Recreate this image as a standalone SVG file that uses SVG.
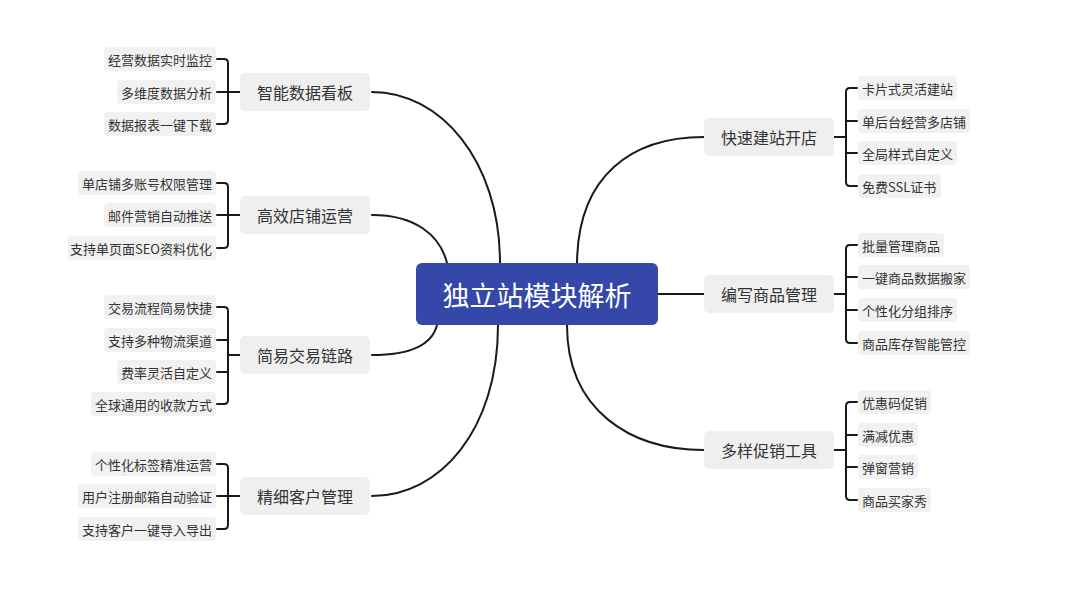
<svg xmlns="http://www.w3.org/2000/svg" width="1080" height="590" viewBox="0 0 1080 590">
<style>
text{font-family:"Noto Sans CJK SC","Noto Sans",sans-serif;dominant-baseline:central}
.leaf rect{fill:#f1f1f1}
.leaf text{font-size:13px;fill:#333}
.main rect{fill:#efefef}
.main text{font-size:16px;fill:#333;text-anchor:middle}
.l text{text-anchor:end}
.c{fill:none;stroke:#1a1a1a;stroke-width:2;stroke-linecap:round}
</style>
<rect width="1080" height="590" fill="#fff"/>
<g id="connectors" class="c">
<path d="M372,92 C440,92 500,160 500,263"/>
<path d="M372,215 C415,215 440,235 447,263"/>
<path d="M372,355 C410,355 432,345 437,325"/>
<path d="M372,496 C440,496 498,430 498,325"/>
<path d="M704,137 C632,137 578,175 577,263"/>
<path d="M658,294 H704"/>
<path d="M704,450 C630,450 567,410 567,325"/>
<path d="M240,92 H228 M217,59 H224 Q228,59 228,63 V120 Q228,124 224,124 H217 M217,92 H228"/>
<path d="M240,215 H228 M217,183 H224 Q228,183 228,187 V244 Q228,248 224,248 H217 M217,215 H228"/>
<path d="M240,355 H228 M217,307 H224 Q228,307 228,311 V400 Q228,404 224,404 H217 M217,340 H228 M217,372 H228"/>
<path d="M240,496 H228 M217,464 H224 Q228,464 228,468 V525 Q228,529 224,529 H217 M217,496 H228"/>
<path d="M834,137 H846 M857,88 H850 Q846,88 846,92 V182 Q846,186 850,186 H857 M857,121 H846 M857,153 H846"/>
<path d="M834,294 H846 M857,245 H850 Q846,245 846,249 V339 Q846,343 850,343 H857 M857,277 H846 M857,310 H846"/>
<path d="M834,450 H846 M857,402 H850 Q846,402 846,406 V496 Q846,500 850,500 H857 M857,435 H846 M857,467 H846"/>
</g>
<g id="root">
<rect x="416" y="263" width="242" height="62" rx="6" fill="#3547a9"/>
<text x="537" y="294" font-size="27" fill="#fff" text-anchor="middle">独立站模块解析</text>
</g>
<g id="n-zhineng" class="main"><rect x="240" y="73" width="130" height="38" rx="5"/><text x="305" y="92">智能数据看板</text></g>
<g id="n-gaoxiao" class="main"><rect x="240" y="196" width="130" height="38" rx="5"/><text x="305" y="215">高效店铺运营</text></g>
<g id="n-jianyi" class="main"><rect x="240" y="336" width="130" height="38" rx="5"/><text x="305" y="355">简易交易链路</text></g>
<g id="n-jingxi" class="main"><rect x="240" y="477" width="130" height="38" rx="5"/><text x="305" y="496">精细客户管理</text></g>
<g id="n-kuaisu" class="main"><rect x="704" y="118" width="130" height="38" rx="5"/><text x="769" y="137">快速建站开店</text></g>
<g id="n-bianxie" class="main"><rect x="704" y="275" width="130" height="38" rx="5"/><text x="769" y="294">编写商品管理</text></g>
<g id="n-duoyang" class="main"><rect x="704" y="431" width="130" height="38" rx="5"/><text x="769" y="450">多样促销工具</text></g>

<g id="l1" class="leaf l"><rect x="104" y="47" width="112" height="24" rx="4"/><text x="212" y="59">经营数据实时监控</text></g>
<g id="l2" class="leaf l"><rect x="117" y="80" width="99" height="24" rx="4"/><text x="212" y="92">多维度数据分析</text></g>
<g id="l3" class="leaf l"><rect x="104" y="112" width="112" height="24" rx="4"/><text x="212" y="124">数据报表一键下载</text></g>
<g id="l4" class="leaf l"><rect x="78" y="171" width="138" height="24" rx="4"/><text x="212" y="183">单店铺多账号权限管理</text></g>
<g id="l5" class="leaf l"><rect x="104" y="203" width="112" height="24" rx="4"/><text x="212" y="215">邮件营销自动推送</text></g>
<g id="l6" class="leaf l"><rect x="68" y="236" width="148" height="24" rx="4"/><text x="212" y="248">支持单页面SEO资料优化</text></g>
<g id="l7" class="leaf l"><rect x="104" y="295" width="112" height="24" rx="4"/><text x="212" y="307">交易流程简易快捷</text></g>
<g id="l8" class="leaf l"><rect x="104" y="328" width="112" height="24" rx="4"/><text x="212" y="340">支持多种物流渠道</text></g>
<g id="l9" class="leaf l"><rect x="117" y="360" width="99" height="24" rx="4"/><text x="212" y="372">费率灵活自定义</text></g>
<g id="l10" class="leaf l"><rect x="91" y="392" width="125" height="24" rx="4"/><text x="212" y="404">全球通用的收款方式</text></g>
<g id="l11" class="leaf l"><rect x="91" y="452" width="125" height="24" rx="4"/><text x="212" y="464">个性化标签精准运营</text></g>
<g id="l12" class="leaf l"><rect x="78" y="484" width="138" height="24" rx="4"/><text x="212" y="496">用户注册邮箱自动验证</text></g>
<g id="l13" class="leaf l"><rect x="78" y="517" width="138" height="24" rx="4"/><text x="212" y="529">支持客户一键导入导出</text></g>

<g id="r1" class="leaf"><rect x="858" y="76" width="99" height="24" rx="4"/><text x="862" y="88">卡片式灵活建站</text></g>
<g id="r2" class="leaf"><rect x="858" y="109" width="112" height="24" rx="4"/><text x="862" y="121">单后台经营多店铺</text></g>
<g id="r3" class="leaf"><rect x="858" y="141" width="99" height="24" rx="4"/><text x="862" y="153">全局样式自定义</text></g>
<g id="r4" class="leaf"><rect x="858" y="174" width="83" height="24" rx="4"/><text x="862" y="186">免费SSL证书</text></g>
<g id="r5" class="leaf"><rect x="858" y="233" width="86" height="24" rx="4"/><text x="862" y="245">批量管理商品</text></g>
<g id="r6" class="leaf"><rect x="858" y="265" width="112" height="24" rx="4"/><text x="862" y="277">一键商品数据搬家</text></g>
<g id="r7" class="leaf"><rect x="858" y="298" width="99" height="24" rx="4"/><text x="862" y="310">个性化分组排序</text></g>
<g id="r8" class="leaf"><rect x="858" y="331" width="112" height="24" rx="4"/><text x="862" y="343">商品库存智能管控</text></g>
<g id="r9" class="leaf"><rect x="858" y="390" width="73" height="24" rx="4"/><text x="862" y="402">优惠码促销</text></g>
<g id="r10" class="leaf"><rect x="858" y="423" width="60" height="24" rx="4"/><text x="862" y="435">满减优惠</text></g>
<g id="r11" class="leaf"><rect x="858" y="455" width="60" height="24" rx="4"/><text x="862" y="467">弹窗营销</text></g>
<g id="r12" class="leaf"><rect x="858" y="488" width="73" height="24" rx="4"/><text x="862" y="500">商品买家秀</text></g>
</svg>
